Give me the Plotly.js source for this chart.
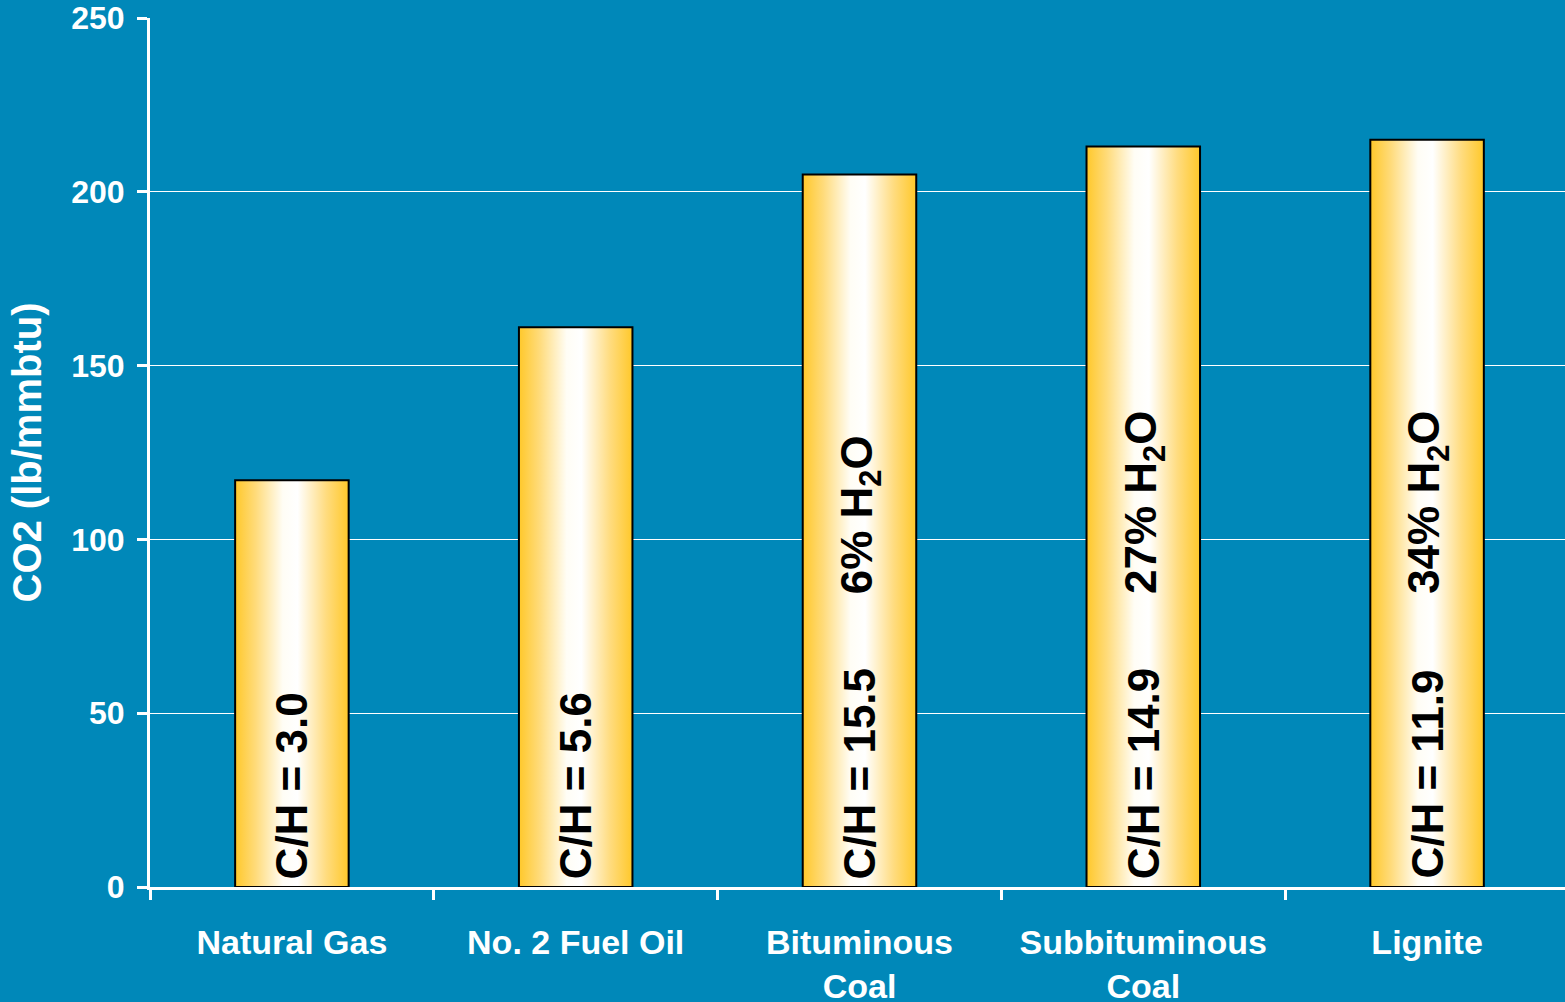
<!DOCTYPE html>
<html>
<head>
<meta charset="utf-8">
<script src="https://cdn.plot.ly/plotly-3.0.1.min.js"></script>
<style>
  html, body { margin: 0; padding: 0; background: #0088B9; }
  #chart { width: 1565px; height: 1002px; }
</style>
</head>
<body>
<div id="chart"></div>
<script>
// ---- data ----
const categories = ['Natural Gas', 'No. 2 Fuel Oil', 'Bituminous<br>Coal', 'Subbituminous<br>Coal', 'Lignite'];
const co2Values = [117, 161, 205, 213, 215];
const chRatios = ['3.0', '5.6', '15.5', '14.9', '11.9'];
const waterPct = ['', '', '6%', '27%', '34%'];
const yTicks = [0, 50, 100, 150, 200, 250];

// ---- styling ----
const BG = '#0088B9';
const FONT = 'Liberation Sans, Arial, Helvetica, sans-serif';
const BAR_HALF = 0.2;
const waterLabelY = 84.5;

const traces = categories.map((c, i) => ({
  type: 'scatter',
  mode: 'lines',
  x: [i - BAR_HALF, i - BAR_HALF, i + BAR_HALF, i + BAR_HALF, i - BAR_HALF],
  y: [0, co2Values[i], co2Values[i], 0, 0],
  fill: 'toself',
  fillgradient: {
    type: 'horizontal',
    colorscale: [
      [0, '#FFC82A'],
      [0.18, '#FFDB7A'],
      [0.42, '#FFFDF5'],
      [0.55, '#FFFFFF'],
      [0.8, '#FFDC80'],
      [1, '#FFC82A']
    ]
  },
  line: { color: '#000000', width: 2 },
  hoverinfo: 'skip',
  showlegend: false
}));

const annotations = [];
categories.forEach((c, i) => {
  annotations.push({
    x: i, y: 0, xref: 'x', yref: 'y',
    text: 'C/H = ' + chRatios[i],
    textangle: -90,
    showarrow: false,
    xanchor: 'center', yanchor: 'bottom',
    yshift: 6,
    font: { family: FONT, size: 44, color: '#000000', weight: 'bold' }
  });
  if (waterPct[i]) {
    annotations.push({
      x: i, y: waterLabelY, xref: 'x', yref: 'y',
      text: waterPct[i] + ' H<sub>2</sub>O',
      textangle: -90,
      showarrow: false,
      xanchor: 'center', yanchor: 'bottom',
      yshift: -3,
      font: { family: FONT, size: 44, color: '#000000', weight: 'bold' }
    });
  }
});

const layout = {
  width: 1565, height: 1002,
  paper_bgcolor: BG, plot_bgcolor: BG,
  margin: { l: 150, r: 0, t: 18, b: 115, pad: 0 },
  showlegend: false,
  font: { family: FONT, color: '#FFFFFF' },
  xaxis: {
    range: [-0.5, 4.486],
    tickmode: 'array',
    tickvals: categories.map((c, i) => i),
    ticktext: categories,
    ticks: '',
    ticklabelstandoff: 23,
    tickfont: { family: FONT, size: 34, color: '#FFFFFF', weight: 'bold' },
    showline: true, linecolor: '#FFFFFF', linewidth: 3,
    showgrid: false, zeroline: false,
    minor: { tickmode: 'linear', tick0: -0.5, dtick: 1, ticks: 'outside', ticklen: 10, tickwidth: 3, tickcolor: '#FFFFFF', showgrid: false },
    fixedrange: true
  },
  yaxis: {
    range: [0, 250],
    tickmode: 'array',
    tickvals: yTicks,
    ticktext: yTicks.map(String),
    ticks: 'outside', ticklen: 10, tickwidth: 3, tickcolor: '#FFFFFF',
    ticklabelstandoff: 6,
    tickfont: { family: FONT, size: 32, color: '#FFFFFF', weight: 'bold' },
    showline: true, linecolor: '#FFFFFF', linewidth: 3,
    showgrid: true, gridcolor: '#FFFFFF', gridwidth: 1,
    zeroline: false,
    title: { text: 'CO2 (lb/mmbtu)', standoff: 18, font: { family: FONT, size: 40, color: '#FFFFFF', weight: 'bold' } },
    fixedrange: true
  },
  annotations: annotations
};

Plotly.newPlot('chart', traces, layout, { displayModeBar: false, staticPlot: true });
</script>
</body>
</html>
